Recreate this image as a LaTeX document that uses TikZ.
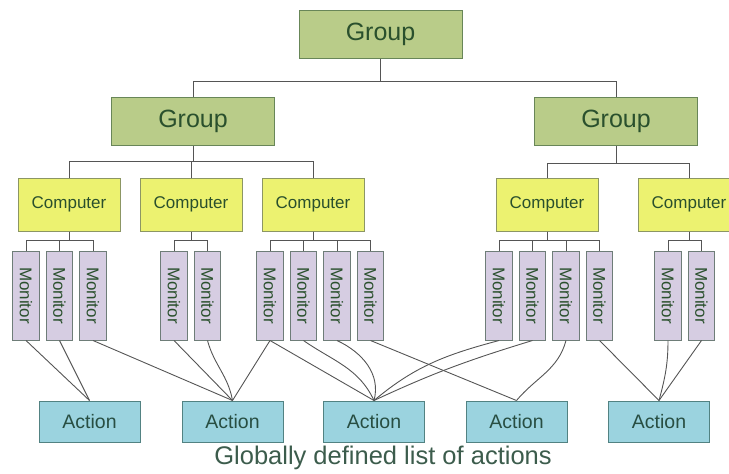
\documentclass[tikz,border=0pt]{standalone}
\usepackage{fontspec}
\setmainfont{Liberation Sans}
\usetikzlibrary{positioning}
\definecolor{groupfill}{RGB}{185,204,137}
\definecolor{groupline}{RGB}{104,134,88}
\definecolor{compfill}{RGB}{236,242,112}
\definecolor{compline}{RGB}{140,150,100}
\definecolor{monfill}{RGB}{214,205,226}
\definecolor{monline}{RGB}{110,125,120}
\definecolor{actfill}{RGB}{155,211,223}
\definecolor{actline}{RGB}{82,130,130}
\definecolor{labeltext}{RGB}{42,80,45}
\definecolor{acttext}{RGB}{40,78,66}
\definecolor{captiontext}{RGB}{60,92,76}
\definecolor{wiregray}{RGB}{85,85,85}
\tikzset{
  box/.style={draw, line width=1pt, inner sep=0pt, text=labeltext},
  group/.style={box, fill=groupfill, draw=groupline, minimum width=163pt, minimum height=48pt, font=\fontsize{25}{30}\selectfont},
  computer/.style={box, fill=compfill, draw=compline, minimum width=102pt, minimum height=53pt, font=\fontsize{17}{20}\selectfont},
  monitor/.style={box, fill=monfill, draw=monline, minimum width=26.5pt, minimum height=89pt, font=\fontsize{17}{20}\selectfont},
  action/.style={box, fill=actfill, draw=actline, text=acttext, minimum width=101pt, minimum height=41pt, font=\fontsize{19.5}{23}\selectfont},
  wire/.style={draw=wiregray, line width=0.9pt},
  elbow/.style={to path={-- ++(0,#1) -| (\tikztotarget)}}
}
\begin{document}
\begin{tikzpicture}[x=1pt,y=-1pt,node distance=33.5pt,on grid]
  \useasboundingbox (0,0) rectangle (729,474);
  \clip (0,0) rectangle (729,474);
  % groups
  \node[group] (g0) at (380.5,34) {Group};
  \node[group] (g1) at (193,121.5) {Group};
  \node[group] (g2) at (616,121.5) {Group};
  % computers
  \node[computer] (c1) at (69,204.5) {Computer};
  \node[computer] (c2) at (191,204.5) {Computer};
  \node[computer] (c3) at (313,204.5) {Computer};
  \node[computer] (c4) at (547,204.5) {Computer};
  \node[computer] (c5) at (689,204.5) {Computer};
  % monitors
  \node[monitor] (m11) at (26,295.5) {\rotatebox{-90}{Monitor}};
  \node[monitor] (m12) [right=of m11] {\rotatebox{-90}{Monitor}};
  \node[monitor] (m13) [right=of m12] {\rotatebox{-90}{Monitor}};
  \node[monitor] (m21) at (174,295.5) {\rotatebox{-90}{Monitor}};
  \node[monitor] (m22) [right=of m21] {\rotatebox{-90}{Monitor}};
  \node[monitor] (m31) at (270,295.5) {\rotatebox{-90}{Monitor}};
  \node[monitor] (m32) [right=of m31] {\rotatebox{-90}{Monitor}};
  \node[monitor] (m33) [right=of m32] {\rotatebox{-90}{Monitor}};
  \node[monitor] (m34) [right=of m33] {\rotatebox{-90}{Monitor}};
  \node[monitor] (m41) at (499,295.5) {\rotatebox{-90}{Monitor}};
  \node[monitor] (m42) [right=of m41] {\rotatebox{-90}{Monitor}};
  \node[monitor] (m43) [right=of m42] {\rotatebox{-90}{Monitor}};
  \node[monitor] (m44) [right=of m43] {\rotatebox{-90}{Monitor}};
  \node[monitor] (m51) at (668,295.5) {\rotatebox{-90}{Monitor}};
  \node[monitor] (m52) [right=of m51] {\rotatebox{-90}{Monitor}};
  % actions
  \node[action] (a1) at (89.5,421.5) {Action};
  \node[action] (a2) at (232.5,421.5) {Action};
  \node[action] (a3) at (374,421.5) {Action};
  \node[action] (a4) at (516.5,421.5) {Action};
  \node[action] (a5) at (659,421.5) {Action};
  \node[text=captiontext, font=\fontsize{25.5}{30}\selectfont] (caption) at (383,458) {Globally defined list of actions};
  % tree
  \path[wire]
  (g0.south) edge[elbow=23] (g1.north)
  (g0.south) edge[elbow=23] (g2.north)
  (g1.south) edge[elbow=15] (c1.north)
  (g1.south) edge[elbow=15] (c2.north)
  (g1.south) edge[elbow=15] (c3.north)
  (g2.south) edge[elbow=17] (c4.north)
  (g2.south) edge[elbow=17] (c5.north)
  (c1.south) edge[elbow=9] (m11.north)
  (c1.south) edge[elbow=9] (m12.north)
  (c1.south) edge[elbow=9] (m13.north)
  (c2.south) edge[elbow=9] (m21.north)
  (c2.south) edge[elbow=9] (m22.north)
  (c3.south) edge[elbow=9] (m31.north)
  (c3.south) edge[elbow=9] (m32.north)
  (c3.south) edge[elbow=9] (m33.north)
  (c3.south) edge[elbow=9] (m34.north)
  (c4.south) edge[elbow=9] (m41.north)
  (c4.south) edge[elbow=9] (m42.north)
  (c4.south) edge[elbow=9] (m43.north)
  (c4.south) edge[elbow=9] (m44.north)
  (c5.south) edge[elbow=9] (m51.north)
  (c5.south) edge[elbow=9] (m52.north);
  % monitors to actions
  \path[wire]
  (m11.south) edge (a1.north)
  (m12.south) edge (a1.north)
  (m13.south) edge (a2.north)
  (m21.south) edge (a2.north)
  (m22.south) edge[out=-75,in=100] (a2.north)
  (m31.south) edge (a2.north)
  (m31.south) edge (a3.north)
  (m32.south) edge[out=-35,in=115] (a3.north)
  (m33.south) edge[out=-25,in=75] (a3.north)
  (m34.south) edge (a4.north)
  (m41.south) edge[out=195,in=40] (a3.north)
  (m42.south) edge[out=197,in=25] (a3.north)
  (m43.south) edge[out=-105,in=50] (a4.north)
  (m44.south) edge (a5.north)
  (m51.south) edge[out=-90,in=75] (a5.north)
  (m52.south) edge (a5.north);
\end{tikzpicture}
\end{document}
